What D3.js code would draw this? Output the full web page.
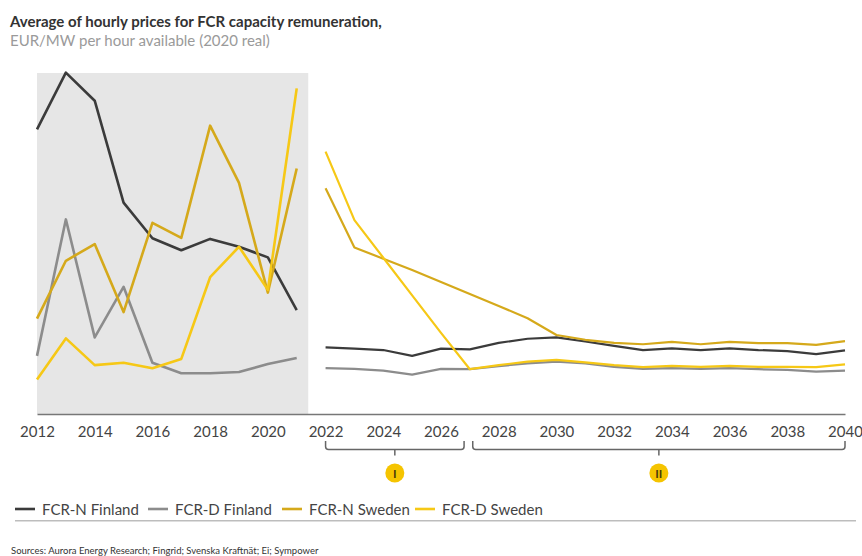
<!DOCTYPE html>
<html>
<head>
<meta charset="utf-8">
<script src="https://cdn.jsdelivr.net/npm/d3@7"></script>
<style>
  html, body { margin: 0; padding: 0; background: #fff; }
  svg { display: block; font-family: Lato, "Open Sans", sans-serif; }
</style>
</head>
<body>
<svg id="chart" width="862" height="556"></svg>
<script>
// ---- Data (arbitrary index units, EUR/MW/h scale unknown) ----
const histYears = [2012, 2013, 2014, 2015, 2016, 2017, 2018, 2019, 2020, 2021];
const fcastYears = [2022, 2023, 2024, 2025, 2026, 2027, 2028, 2029, 2030, 2031,
                    2032, 2033, 2034, 2035, 2036, 2037, 2038, 2039, 2040];

const fcrNFinlandHist = [83.2, 99.8, 91.6, 61.8, 51.4, 47.9, 51.2, 48.9, 45.8, 30.4];
const fcrDFinlandHist = [17.0, 56.9, 22.4, 37.2, 15.0, 11.9, 11.9, 12.3, 14.6, 16.4];
const fcrNSwedenHist  = [27.9, 44.8, 49.7, 29.8, 55.9, 51.5, 84.3, 67.6, 35.5, 71.8];
const fcrDSwedenHist  = [10.1, 22.1, 14.3, 15.0, 13.4, 16.1, 40.0, 48.9, 36.3, 95.2];

const fcrNFinlandFcast = [19.5, 19.1, 18.7, 17.0, 19.1, 18.9, 20.8, 22.0, 22.4, 21.2,
                          19.9, 18.7, 19.2, 18.7, 19.2, 18.7, 18.4, 17.5, 18.6];
const fcrDFinlandFcast = [13.4, 13.2, 12.7, 11.5, 13.2, 13.1, 14.0, 14.8, 15.3, 14.8,
                          13.8, 13.2, 13.4, 13.2, 13.4, 13.1, 12.9, 12.4, 12.7];
const fcrNSwedenFcast  = [66.0, 48.7, 45.4, 42.1, 38.6, 35.1, 31.6, 28.0, 23.1, 21.7,
                          20.8, 20.4, 21.1, 20.4, 21.1, 20.7, 20.7, 20.2, 21.3];
const fcrDSwedenFcast  = [76.7, 56.7, 45.7, 34.7, 23.7, 13.1, 14.3, 15.3, 15.8, 15.1,
                          14.3, 13.7, 14.1, 13.8, 14.1, 13.8, 13.8, 13.7, 14.5];

const seriesNames = ["FCR-N Finland", "FCR-D Finland", "FCR-N Sweden", "FCR-D Sweden"];
const seriesColors = ["#3b3b3b", "#8c8c8c", "#d5a91b", "#f6c816"];
const tickYears = [2012, 2014, 2016, 2018, 2020, 2022, 2024, 2026, 2028, 2030,
                   2032, 2034, 2036, 2038, 2040];
const phases = [
  { label: "I",  from: 2022,   to: 2026.8 },
  { label: "II", from: 2027.1, to: 2040 }
];
const titleText = "Average of hourly prices for FCR capacity remuneration,";
const subtitleText = "EUR/MW per hour available (2020 real)";
const sourcesText = "Sources: Aurora Energy Research; Fingrid; Svenska Kraftnät; Ei; Sympower";

// ---- Chart ----
const svg = d3.select("#chart");
const x = d3.scaleLinear().domain([2012, 2040]).range([37, 845]);
const y = d3.scaleLinear().domain([0, 100]).range([414, 72]);

// Title
svg.append("text").attr("x", 10).attr("y", 27)
  .attr("font-size", 15).attr("font-weight", 700).attr("fill", "#333")
  .text(titleText);
svg.append("text").attr("x", 10).attr("y", 46)
  .attr("font-size", 15).attr("fill", "#9a9a9a")
  .text(subtitleText);

// Historical shaded area
svg.append("rect")
  .attr("x", x(2012)).attr("y", y(99.7))
  .attr("width", x(2021.4) - x(2012)).attr("height", y(0) - y(99.7))
  .attr("fill", "#e6e6e6");

// Lines
const line = d3.line().x(d => x(d[0])).y(d => y(d[1]));
const hist = [fcrNFinlandHist, fcrDFinlandHist, fcrNSwedenHist, fcrDSwedenHist];
const fcast = [fcrNFinlandFcast, fcrDFinlandFcast, fcrNSwedenFcast, fcrDSwedenFcast];

hist.forEach((vals, i) => {
  svg.append("path")
    .datum(histYears.map((yr, j) => [yr, vals[j]]))
    .attr("d", line).attr("fill", "none")
    .attr("stroke", seriesColors[i]).attr("stroke-width", 2.6)
    .attr("stroke-linejoin", "round");
});
fcast.forEach((vals, i) => {
  svg.append("path")
    .datum(fcastYears.map((yr, j) => [yr, vals[j]]))
    .attr("d", line).attr("fill", "none")
    .attr("stroke", seriesColors[i]).attr("stroke-width", 2.2)
    .attr("stroke-linejoin", "round");
});

// X axis
const axis = d3.axisBottom(x).tickValues(tickYears).tickFormat(d3.format("d"))
  .tickSize(0).tickPadding(12);
const gx = svg.append("g").attr("transform", `translate(0,${y(0)})`).call(axis);
gx.select(".domain").attr("stroke", "#777").attr("stroke-width", 1.6);
gx.selectAll("text").attr("font-size", 15).attr("fill", "#444")
  .attr("font-family", "Lato, sans-serif");

// Phase brackets
const bTop = 441, bBot = 449.5, r = 3;
phases.forEach(p => {
  const x1 = x(p.from), x2 = x(p.to), xm = (x1 + x2) / 2;
  svg.append("path")
    .attr("d", `M${x1},${bTop} V${bBot - r} Q${x1},${bBot} ${x1 + r},${bBot} H${x2 - r} Q${x2},${bBot} ${x2},${bBot - r} V${bTop}
                M${xm},${bBot} V${bBot + 6}`)
    .attr("fill", "none").attr("stroke", "#666").attr("stroke-width", 1.5);
  svg.append("circle").attr("cx", xm).attr("cy", 473).attr("r", 9.5).attr("fill", "#f5c400");
  svg.append("text").attr("x", xm).attr("y", 477.5).attr("text-anchor", "middle")
    .attr("font-size", 12).attr("font-weight", 700).attr("fill", "#4a3c0a")
    .text(p.label);
});

// Legend
const legendX = [15, 148, 282, 415];
seriesNames.forEach((name, i) => {
  const g = svg.append("g").attr("transform", `translate(${legendX[i]},509)`);
  g.append("line").attr("x1", 0).attr("x2", 20).attr("y1", 0).attr("y2", 0)
    .attr("stroke", seriesColors[i]).attr("stroke-width", 2.6);
  g.append("text").attr("x", 27).attr("y", 5.5).attr("font-size", 15).attr("fill", "#444")
    .text(name);
});
svg.append("line").attr("x1", 15).attr("x2", 856).attr("y1", 520.7).attr("y2", 520.7)
  .attr("stroke", "#bdbdbd").attr("stroke-width", 1.5);

// Sources
svg.append("text").attr("x", 11).attr("y", 553.5).attr("font-size", 9.5).attr("fill", "#333")
  .text(sourcesText);
</script>
</body>
</html>
